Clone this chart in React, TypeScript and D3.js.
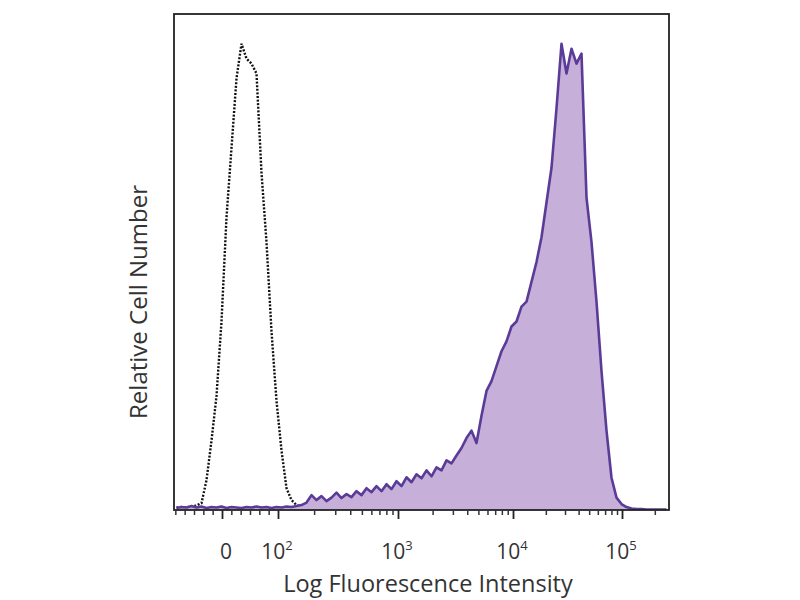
import { useEffect, useRef } from "react";
import * as d3 from "d3";

// Histogram channels (each bin ~ one display channel of the biexponential axis)
const NBINS = 99;

// Isotype control (dotted) – relative counts per channel
const controlCounts = [
  0.5, 0.6, 0.5, 0.7, 0.9, 1.4, 6, 14, 23, 38,
  59, 73, 87, 94, 91, 90, 88, 68, 54, 36,
  22, 12, 4.4, 2, 1, 0.6, 0.4, 0.3, 0.2, 0.1,
];

// Stained sample (filled purple) – relative counts per channel
const stainedCounts = [
  0.4, 0.6, 0.5, 0.8, 0.5, 0.7, 0.4, 0.6, 0.5, 0.7,
  0.4, 0.6, 0.5, 0.4, 0.6, 0.5, 0.7, 0.5, 0.6, 0.4,
  0.6, 0.5, 0.7, 0.6, 0.8, 1, 1.5, 3, 2, 2.8,
  1.8, 2.5, 3.5, 2.4, 3.2, 2.6, 3.8, 3, 4.4, 3.6,
  4.8, 3.8, 5.2, 4.2, 5.8, 4.8, 6.6, 5.6, 7.2, 6.4,
  8, 6.8, 8.6, 8, 10, 9.4, 11, 12.5, 14.5, 16,
  13.5, 19, 24, 26, 29, 32, 34, 37, 38, 41,
  42, 46, 50, 55, 62, 69, 81, 94, 88, 93,
  90, 92, 63, 54, 42, 28, 16, 6.5, 2.5, 1.2,
  0.6, 0.3, 0.2, 0.2, 0.1, 0.1, 0.1, 0.1, 0.1,
];

// Major tick labels and their channel positions
const majorTickChannels = [9.6, 20.8, 44.8, 67.8, 89.6];
const majorTickLabels = [
  { base: "0", exp: "" },
  { base: "10", exp: "2" },
  { base: "10", exp: "3" },
  { base: "10", exp: "4" },
  { base: "10", exp: "5" },
];

const FONT = "'Open Sans', 'DejaVu Sans', sans-serif";

export default function App() {
  const svgRef = useRef<SVGSVGElement | null>(null);
  const width = 800;
  const height = 600;

  useEffect(() => {
    if (!svgRef.current) return;
    const svg = d3.select(svgRef.current);
    svg.selectAll("*").remove();

    const left = 174;
    const right = 669;
    const top = 14;
    const bottom = 510;

    const x = d3.scaleLinear().domain([0, NBINS]).range([left, right]);
    const y = d3.scaleLinear().domain([0, 100]).range([bottom, top]);

    svg.append("rect").attr("width", width).attr("height", height).attr("fill", "#fff");

    const clip = svg.append("clipPath").attr("id", "plot-clip");
    clip
      .append("rect")
      .attr("x", left)
      .attr("y", top)
      .attr("width", right - left)
      .attr("height", bottom - top);

    const g = svg.append("g").attr("clip-path", "url(#plot-clip)");

    // Control histogram (dotted)
    const histLine = d3
      .line<number>()
      .x((_, i) => x(i + 0.5))
      .y((d) => y(d));

    g.append("path")
      .datum(controlCounts)
      .attr("fill", "none")
      .attr("stroke", "#111")
      .attr("stroke-width", 2.4)
      .attr("stroke-dasharray", "2 1.6")
      .attr("d", histLine);

    // Stained histogram (filled)
    const stainedArea = d3
      .area<number>()
      .x((_, i) => x(i + 0.5))
      .y0(y(0))
      .y1((d) => y(d));

    g.append("path")
      .datum(stainedCounts)
      .attr("fill", "#c6b0da")
      .attr("d", stainedArea);

    g.append("path")
      .datum(stainedCounts)
      .attr("fill", "none")
      .attr("stroke", "#5a3c98")
      .attr("stroke-width", 2.6)
      .attr("stroke-linejoin", "round")
      .attr("d", histLine);

    // Frame
    svg
      .append("rect")
      .attr("x", left)
      .attr("y", top)
      .attr("width", right - left)
      .attr("height", bottom - top)
      .attr("fill", "none")
      .attr("stroke", "#222")
      .attr("stroke-width", 1.8);

    // Minor ticks: linear region around zero, log spacing inside decades
    const minorTicks: number[] = [];
    const linStep = (majorTickChannels[1] - majorTickChannels[0]) / 6;
    for (let c = majorTickChannels[0] - linStep; c > 0; c -= linStep) minorTicks.push(c);
    for (let k = 1; k < 6; k++) minorTicks.push(majorTickChannels[0] + k * linStep);
    for (let dIdx = 1; dIdx < majorTickChannels.length; dIdx++) {
      const c0 = majorTickChannels[dIdx];
      const span =
        dIdx < majorTickChannels.length - 1
          ? majorTickChannels[dIdx + 1] - c0
          : majorTickChannels[dIdx] - majorTickChannels[dIdx - 1];
      for (let m = 2; m <= 9; m++) {
        const c = c0 + Math.log10(m) * span;
        if (c < NBINS) minorTicks.push(c);
      }
    }

    const axis = svg.append("g").attr("transform", `translate(0,${bottom})`);
    axis
      .call(
        d3
          .axisBottom(x)
          .tickValues(minorTicks)
          .tickSize(5)
          .tickFormat(() => "")
      )
      .call((s) => s.select(".domain").remove())
      .call((s) => s.selectAll("line").attr("stroke", "#333").attr("stroke-width", 1.5));

    const majorAxis = svg.append("g").attr("transform", `translate(0,${bottom})`);
    majorAxis
      .call(
        d3
          .axisBottom(x)
          .tickValues(majorTickChannels)
          .tickSize(9)
          .tickFormat(() => "")
      )
      .call((s) => s.select(".domain").remove())
      .call((s) => s.selectAll("line").attr("stroke", "#222").attr("stroke-width", 1.8));

    // Tick labels with superscripts
    majorTickLabels.forEach((lab, i) => {
      const t = svg
        .append("text")
        .attr("x", x(majorTickChannels[i]) + (lab.exp ? -1 : 4))
        .attr("y", 559)
        .attr("text-anchor", "middle")
        .attr("font-family", FONT)
        .attr("font-size", 21)
        .attr("fill", "#333");
      t.append("tspan").text(lab.base);
      if (lab.exp) {
        t.append("tspan").attr("dy", -9).attr("font-size", 13).text(lab.exp);
      }
    });

    svg
      .append("text")
      .attr("x", 428)
      .attr("y", 592)
      .attr("text-anchor", "middle")
      .attr("font-family", FONT)
      .attr("font-size", 23.5)
      .attr("fill", "#333")
      .text("Log Fluorescence Intensity");

    svg
      .append("text")
      .attr("transform", `translate(147,302) rotate(-90)`)
      .attr("text-anchor", "middle")
      .attr("font-family", FONT)
      .attr("font-size", 24)
      .attr("fill", "#333")
      .text("Relative Cell Number");
  }, []);

  return (
    <div style={{ position: "absolute", left: 0, top: 0 }}>
      <svg ref={svgRef} width={width} height={height}></svg>
    </div>
  );
}
